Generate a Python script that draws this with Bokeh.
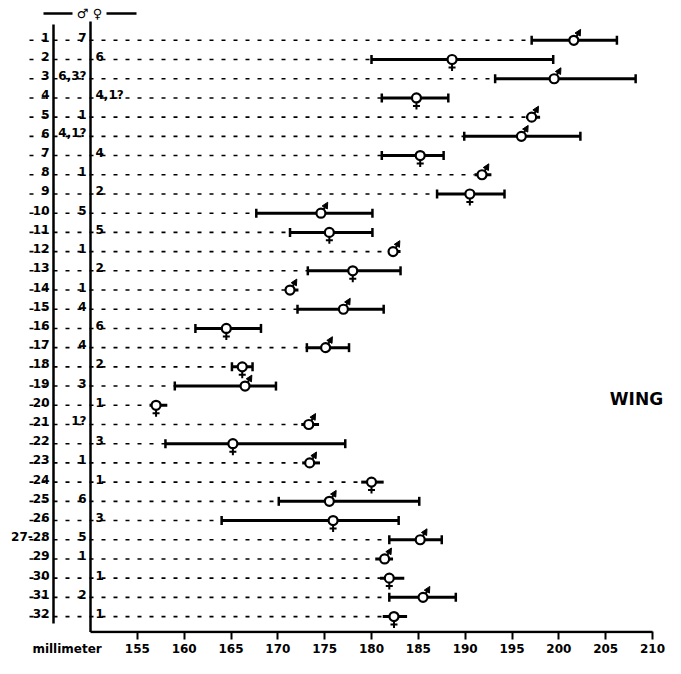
import math
from bokeh.plotting import figure
from bokeh.models import Range1d, FixedTicker, ColumnDataSource, Arrow, NormalHead
from bokeh.core.properties import value
from bokeh.embed import file_html
from bokeh.resources import INLINE

# ---------------- data ----------------
row_labels = ["1", "2", "3", "4", "5", "6", "7", "8", "9", "10", "11", "12", "13",
              "14", "15", "16", "17", "18", "19", "20", "21", "22", "23", "24", "25",
              "26", "27-28", "29", "30", "31", "32"]
sex = ["m", "f", "m", "f", "m", "m", "f", "m", "f", "m", "f", "m", "f", "m", "m",
       "f", "m", "f", "m", "f", "m", "f", "m", "f", "m", "f", "m", "m", "f", "m", "f"]
counts = ["7", "6", "6,3?", "4,1?", "1", "4,1?", "4", "1", "2", "5", "5", "1", "2",
          "1", "4", "6", "4", "2", "3", "1", "1?", "3", "1", "1", "6", "3", "5", "1",
          "1", "2", "1"]
means = [201.6, 188.6, 199.5, 184.8, 197.1, 196.0, 185.2, 191.8, 190.5, 174.6, 175.5,
         182.3, 178.0, 171.3, 177.0, 164.5, 175.1, 166.2, 166.5, 157.0, 173.3, 165.2,
         173.4, 180.0, 175.5, 175.9, 185.2, 181.4, 181.9, 185.5, 182.4]
lows = [197.1, 180.0, 193.2, 181.1, 196.5, 189.9, 181.1, 191.0, 187.0, 167.7, 171.3,
        181.8, 173.2, 170.9, 172.1, 161.2, 173.1, 165.1, 159.0, 156.3, 172.5, 158.0,
        172.6, 178.9, 170.1, 164.0, 181.9, 180.4, 180.9, 181.9, 181.2]
highs = [206.2, 199.4, 208.2, 188.2, 198.0, 202.3, 187.7, 192.8, 194.2, 180.1, 180.1,
         183.1, 183.1, 172.2, 181.3, 168.2, 177.6, 167.3, 169.8, 158.2, 174.4, 177.2,
         174.5, 181.3, 185.1, 182.9, 187.5, 182.3, 183.5, 189.0, 183.8]
tick_values = [155, 160, 165, 170, 175, 180, 185, 190, 195, 200, 205, 210]
axis_name = "millimeter"
title_text = "WING"

# ---------------- layout ----------------
W, H = 665, 658
BOTTOM = 22
FRAME_H = H - BOTTOM
X150 = 90              # canvas x of 150 mm
X210 = 652             # canvas x of 210 mm
PX_MM = (X210 - X150) / 60.0
PX_ROW = 19.3          # pixels per row
ROW0 = 40              # canvas y of first row
NAME_POS = 147.5       # axis position of the unit name


def xmm(cx):
    return 150 + (cx - X150) / PX_MM


def yrow(cy):
    return -(cy - ROW0) / PX_ROW


p = figure(width=W, height=H,
           x_range=Range1d(xmm(0), xmm(W)),
           y_range=Range1d(yrow(FRAME_H), yrow(0)),
           output_backend="svg", toolbar_location=None, y_axis_location=None,
           min_border_left=0, min_border_right=0, min_border_top=0,
           min_border_bottom=BOTTOM)
p.grid.visible = False
p.outline_line_color = None
p.background_fill_color = "white"

ax = p.xaxis[0]
ax.ticker = FixedTicker(ticks=[NAME_POS] + tick_values, minor_ticks=tick_values)
ax.major_label_overrides = {NAME_POS: axis_name}
ax.axis_line_color = None
ax.major_tick_line_color = None
ax.minor_tick_line_color = "black"
ax.minor_tick_line_width = 2
ax.minor_tick_in = 2
ax.minor_tick_out = 6
ax.major_tick_out = 6
ax.major_tick_in = 0
ax.major_label_standoff = 2
ax.major_label_text_font = "DejaVu Sans"
ax.major_label_text_font_style = "bold"
ax.major_label_text_font_size = "12px"
ax.major_label_text_color = "black"

ys = [-i for i in range(len(row_labels))]
capped = [not c.startswith("1") for c in counts]

src = ColumnDataSource(dict(y=ys, lo=lows, hi=highs, mean=means,
                            x_lead=[xmm(29)] * len(ys)))

# leaders
p.segment(x0="x_lead", y0="y", x1="lo", y1="y", source=src,
          line_color="black", line_width=1.6, line_dash="4 8")

# frame lines
ybase = yrow(FRAME_H - 1.5)
p.segment(x0=[xmm(53), 150, 150], y0=[yrow(24), yrow(21), ybase],
          x1=[xmm(53), 150, 210], y1=[yrow(626), ybase, ybase],
          line_color="black", line_width=2.5)

# header
p.segment(x0=[xmm(43), xmm(106)], y0=[yrow(13)] * 2, x1=[xmm(72), xmm(136)],
          y1=[yrow(13)] * 2, line_color="black", line_width=2.5)
p.text(x=[xmm(89)], y=[yrow(13)], text=["\u2642 \u2640"], text_align="center",
       text_baseline="middle", text_font=value("DejaVu Sans"),
       text_font_style="bold", text_font_size="13px", text_color="black")

# bars
p.segment(x0="lo", y0="y", x1="hi", y1="y", source=src, line_color="black",
          line_width=3)
cap_x = [v for v, c in zip(lows, capped) if c] + [v for v, c in zip(highs, capped) if c]
cap_y = [y for y, c in zip(ys, capped) if c] * 2
p.scatter(x=cap_x, y=cap_y, marker="dash", angle=math.pi / 2, size=9,
          line_color="black", line_width=2.5)

# symbols
m_idx = [i for i, s in enumerate(sex) if s == "m"]
f_idx = [i for i, s in enumerate(sex) if s == "f"]
male = ColumnDataSource(dict(
    xs=[means[i] + 2.8 / PX_MM for i in m_idx],
    ys=[ys[i] + 4.0 / PX_ROW for i in m_idx],
    xe=[means[i] + 6.8 / PX_MM for i in m_idx],
    ye=[ys[i] + 11.0 / PX_ROW for i in m_idx]))
p.add_layout(Arrow(end=NormalHead(size=6, fill_color="black", line_color="black",
                                  line_width=1),
                   x_start="xs", y_start="ys", x_end="xe", y_end="ye",
                   source=male, line_color="black", line_width=2))
p.scatter(x=[means[i] for i in f_idx], y=[ys[i] - 8 / PX_ROW for i in f_idx],
          marker="cross", size=7, line_color="black", line_width=2)
p.scatter(x="mean", y="y", source=src, marker="circle", size=9,
          fill_color="white", line_color="black", line_width=2.2)

# texts
txt = dict(text_font=value("DejaVu Sans"), text_font_style="bold",
           text_font_size="12px", text_color="black", text_baseline="alphabetic",
           y_offset=-3)
p.text(x=[xmm(49)] * len(ys), y=ys, text=row_labels, text_align="right", **txt)
p.text(x=[xmm(86)] * len(m_idx), y=[ys[i] for i in m_idx],
       text=[counts[i] for i in m_idx], text_align="right", **txt)
p.text(x=[xmm(95)] * len(f_idx), y=[ys[i] for i in f_idx],
       text=[counts[i] for i in f_idx], text_align="left", **txt)

p.text(x=[xmm(636)], y=[yrow(400)], text=[title_text], text_align="center",
       text_baseline="middle", text_font=value("DejaVu Sans"),
       text_font_style="bold", text_font_size="17px", text_color="black")

open("out.html", "w").write(file_html(p, INLINE))
